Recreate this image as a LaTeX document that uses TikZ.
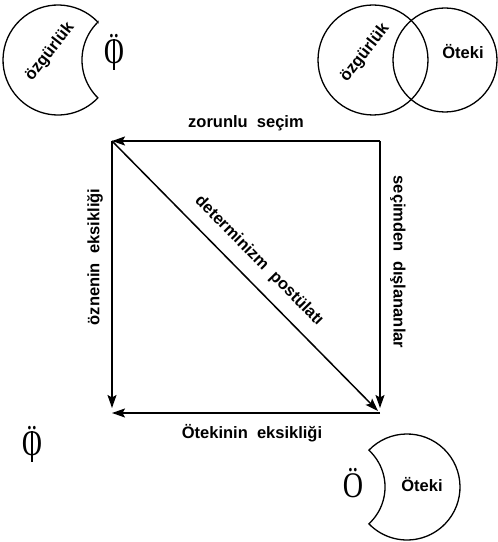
\documentclass[tikz,border=0pt]{standalone}
\usepackage{fontspec}
\setmainfont{Liberation Serif}
\setsansfont{Liberation Sans}
\usetikzlibrary{arrows.meta}
\newcommand{\barredO}{\ooalign{Ö\cr\hidewidth\rule[-0.16em]{0.045em}{0.86em}\hidewidth\cr}}
\begin{document}
\begin{tikzpicture}[x=1pt,y=1pt,
  lab/.style={font=\sffamily\bfseries\fontsize{16.5}{19}\selectfont, inner sep=0pt},
  conn/.style={line width=1.5pt, -{Stealth[length=13pt,width=9pt,inset=2.5pt]}},
  crescent/.style={line width=1.3pt},
  serifbig/.style={font=\fontsize{36}{40}\selectfont, inner sep=0pt, anchor=base}]
\useasboundingbox (0,0) rectangle (498,542);
% corners
\coordinate (tl) at (112,401);
\coordinate (tr) at (380,401);
\coordinate (bl) at (112,134);
\coordinate (br) at (380,134);
\coordinate (bra) at (380,129);
\coordinate (bla) at (112,129);
\coordinate (dg) at (378,131);
% connectors
\draw[conn] (tr) -- (tl);
\draw[conn] (tl) -- (bl);
\draw[conn] (tr) -- (br);
\draw[conn] (bra) -- (bla);
\draw[conn] (tl) -- (dg);
% labels
\node[lab] (zs) at (246,419) {zorunlu\ \ seçim};
\node[lab, rotate=90] (oe) at (95,285) {öznenin\ \ eksikliği};
\node[lab, rotate=-90] (sd) at (398,280) {seçimden\ \ dışlananlar};
\node[lab, rotate=-45.3] (dp) at (259,281) {determinizm\ \ postülatı};
\node[lab] (oek) at (252,109) {Ötekinin\ \ eksikliği};
% top-left crescent
\draw[crescent] (97.9,519.86) arc[start angle=43.5, end angle=316.5, radius=55]
  arc[start angle=225.6, end angle=134.4, radius=53] -- cycle;
\node[lab, rotate=52] (oz1) at (50,490) {özgürlük};
\node[serifbig] (phi1) at (114,478) {\scalebox{0.78}[1]{\barredO}};
% Venn
\draw[crescent] (373,482) circle[radius=55];
\draw[crescent] (445,482) circle[radius=52];
\node[lab, rotate=52] (oz2) at (365,489) {özgürlük};
\node[lab] (ot1) at (463,490) {Öteki};
% bottom-left barred O
\node[serifbig] (phi2) at (32,86) {\scalebox{0.78}[1]{\barredO}};
% bottom-right crescent
\draw[crescent] (368.88,91.82) arc[start angle=136, end angle=-136, radius=53]
  arc[start angle=-47.4, end angle=47.4, radius=50] -- cycle;
\node[lab] (ot2) at (422,57) {Öteki};
\node[serifbig] (o3) at (353,45) {\scalebox{0.78}[1]{Ö}};
\end{tikzpicture}
\end{document}
